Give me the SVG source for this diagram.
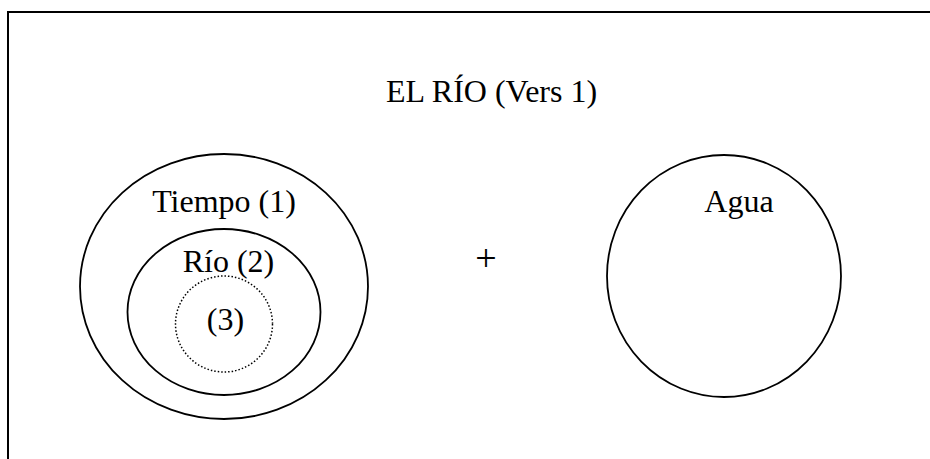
<svg xmlns="http://www.w3.org/2000/svg" width="930" height="459" viewBox="0 0 930 459">
<style>
text{font-family:"Liberation Serif","Times New Roman",serif;font-size:32px;fill:#000;text-anchor:middle}
.e{fill:none;stroke:#000;stroke-width:1.8}
.d{fill:none;stroke:#000;stroke-width:1.5;stroke-dasharray:1.5 2}
</style>
<rect x="0" y="0" width="930" height="459" fill="#fff"/>
<rect x="8" y="12" width="940" height="470" fill="none" stroke="#000" stroke-width="2"/>
<g id="title"><text x="491.5" y="101.5">EL RÍO (Vers 1)</text></g>
<g id="tiempo">
<ellipse class="e" cx="224" cy="286.5" rx="144" ry="132.5"/>
<text x="224" y="211.5">Tiempo (1)</text>
</g>
<g id="rio">
<ellipse class="e" cx="224" cy="312" rx="96.5" ry="83"/>
<text x="228.5" y="271.5">Río (2)</text>
</g>
<g id="n3">
<ellipse class="d" cx="224" cy="324" rx="48.5" ry="48"/>
<text x="225.5" y="330">(3)</text>
</g>
<g id="plus"><text x="486" y="271" style="font-size:38px">+</text></g>
<g id="agua">
<ellipse class="e" cx="724" cy="276" rx="117" ry="121"/>
<text x="739" y="211.5">Agua</text>
</g>
<g id="connectors"></g>
</svg>
